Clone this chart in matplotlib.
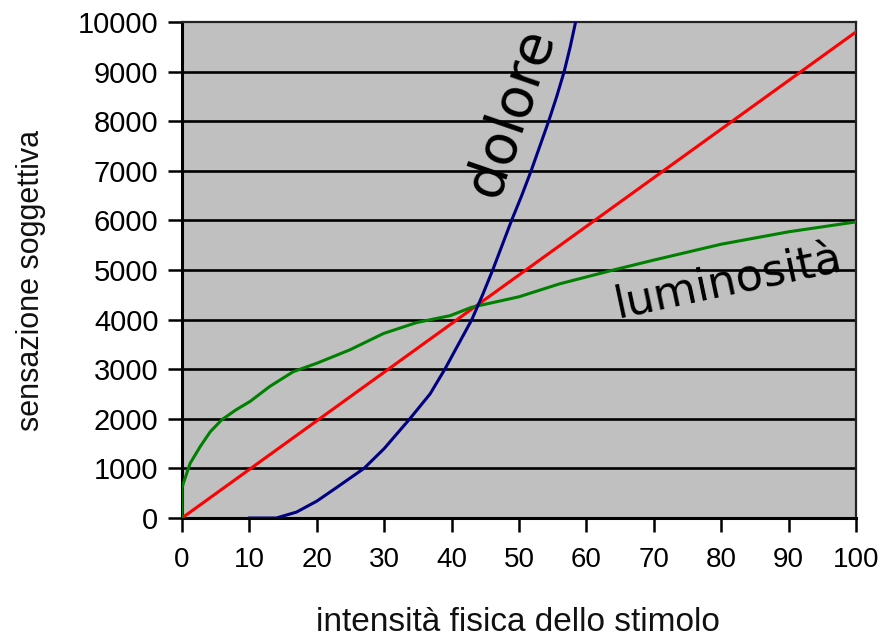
import matplotlib
matplotlib.use("Agg")
import matplotlib.pyplot as plt

# values
lin_x = [0, 100]
lin_y = [0, 9800]

lum_x = [0, 0, 0.2, 1.2, 2.7, 4.2, 5.9, 8, 10.1, 13, 16.5, 20, 24.9, 29.9, 34.8, 39.8, 43, 50, 56, 64, 70, 80, 90, 100]
lum_y = [0, 600, 700, 1100, 1440, 1740, 1980, 2180, 2350, 2650, 2950, 3120, 3390, 3720, 3940, 4080, 4250, 4460,
         4720, 5000, 5200, 5520, 5770, 5970]

dol_x = [10, 14, 17, 20, 23, 27, 30, 33.8, 36.8, 39, 41, 43.0, 44.6, 46.1, 47.5, 48.9, 50.4, 51.8, 53.1, 54.4, 55.6,
         56.7, 57.6, 58.4]
dol_y = [0, 0, 120, 340, 620, 1000, 1400, 2000, 2500, 3000, 3500, 4000, 4500, 5000, 5500, 6000, 6500, 7000, 7500,
         8000, 8500, 9000, 9500, 10000]

xticks = list(range(0, 101, 10))
yticks = list(range(0, 10001, 1000))

plt.rcParams['font.family'] = ['Liberation Sans', 'DejaVu Sans']

fig = plt.figure(figsize=(8.83, 6.37), dpi=100)
ax = fig.add_axes([182 / 883, 1 - 518 / 637, (856 - 182) / 883, (518 - 22) / 637])
ax.set_facecolor('#c0c0c0')

for v in yticks[1:-1]:
    ax.axhline(v, color='black', lw=1.9, zorder=1)

ax.plot(lin_x, lin_y, color='#ff0000', lw=2.2, zorder=3)
ax.plot(lum_x, lum_y, color='#008000', lw=2.2, zorder=3)
ax.plot(dol_x, dol_y, color='#000080', lw=2.2, zorder=3)

ax.set_xlim(0, 100)
ax.set_ylim(0, 10000)
ax.set_xticks(xticks)
ax.set_yticks(yticks)
ax.tick_params(direction='out', length=10, width=1.8, labelsize=20, colors='black')
ax.tick_params(axis='x', pad=11)
ax.tick_params(axis='y', pad=7, labelsize=21)

for s in ['left', 'bottom']:
    ax.spines[s].set_linewidth(2.2)
for s in ['top', 'right']:
    ax.spines[s].set_linewidth(1.6)
    ax.spines[s].set_color('#222222')

fig.text(31 / 883, 1 - 280 / 637, 'sensazione soggettiva', rotation=90, ha='center', va='center',
         fontsize=22, color='#111111')
fig.text(518 / 883, 1 - 631 / 637, 'intensità fisica dello stimolo', ha='center', va='baseline',
         fontsize=24, color='#111111')

ax.text(48.8, 8180, 'dolore', rotation=71, ha='center', va='center', fontsize=40,
        family='DejaVu Sans', zorder=4)
ax.text(81, 4780, 'luminosità', rotation=12, ha='center', va='center', fontsize=32,
        family='DejaVu Sans', zorder=4)

fig.savefig('out.png', dpi=100)
